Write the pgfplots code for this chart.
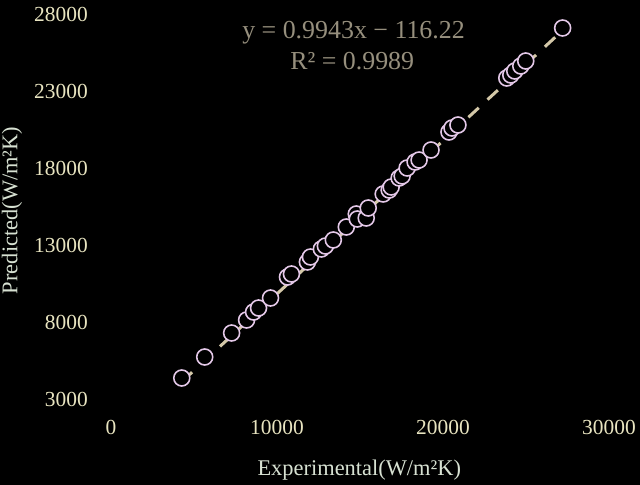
\documentclass[border=0pt]{standalone}
\usepackage{fontspec}
\setmainfont{Liberation Serif}
\usepackage{pgfplots}
\pgfplotsset{compat=1.18}
\definecolor{ticklab}{RGB}{232,228,192}
\definecolor{axlab}{RGB}{215,225,210}
\definecolor{eqcol}{RGB}{150,143,125}
\definecolor{markcol}{RGB}{228,200,232}
\definecolor{trendcol}{RGB}{212,200,168}
\begin{document}
\begin{tikzpicture}
\fill[black] (-111bp,-86bp) rectangle (529bp,399bp);
\useasboundingbox (-111bp,-86bp) rectangle (529bp,399bp);
\begin{axis}[
  at={(0,0)}, anchor=south west,
  scale only axis, width=498bp, height=385bp,
  xmin=0, xmax=30000, ymin=3000, ymax=28000,
  xtick={0,10000,20000,30000},
  ytick={3000,8000,13000,18000,23000,28000},
  scaled ticks=false,
  /pgf/number format/assume math mode=true,
  /pgf/number format/1000 sep={},
  axis line style={draw=none},
  major tick length=0pt,
  tick style={draw=none},
  ticklabel style={font=\fontsize{21.5}{25}\selectfont, text=ticklab},
  xticklabel style={anchor=center, yshift=-28bp},
  yticklabel style={anchor=east, inner sep=0pt, xshift=-23bp},
  xlabel={Experimental(W/m²K)},
  ylabel={Predicted(W/m²K)},
  label style={font=\fontsize{22.5}{26}\selectfont, text=axlab},
  xlabel style={at={(axis description cs:0.4985,-0.1844)}, anchor=center},
  ylabel style={at={(axis description cs:-0.1988,0.49)}, anchor=center},
  clip=false,
]
\addplot[only marks, mark=*, mark size=8bp,
  mark options={draw=markcol, fill=black, line width=1.6bp}] coordinates {
(4264,4364) (5646,5727) (7267,7286) (8168,8130) (8589,8649) (8889,8909)
(9610,9558) (10631,10922) (10871,11117) (11832,11896) (12012,12221)
(12673,12740) (12913,12935) (13393,13325) (14174,14169) (14775,15013)
(14835,14688) (15375,14753) (15495,15403) (16396,16312) (16757,16571)
(16877,16766) (17357,17351) (17538,17481) (17838,18000) (18318,18390)
(18559,18519) (19279,19169) (20360,20338) (20541,20597) (20901,20792)
(23844,23844) (24084,24039) (24324,24299) (24685,24623) (24985,24948)
(27207,27091)
};
\addplot[trendcol, line width=3bp, dash pattern=on 14bp off 12bp] coordinates {
(4264,4124) (27207,26936)
};
\node[font=\fontsize{26}{30}\selectfont, text=eqcol, anchor=center] at (axis cs:14610,26766) {y = 0.9943x − 116.22};
\node[font=\fontsize{26}{30}\selectfont, text=eqcol, anchor=center] at (axis cs:14530,24948) {R² = 0.9989};
\end{axis}
\end{tikzpicture}
\end{document}
